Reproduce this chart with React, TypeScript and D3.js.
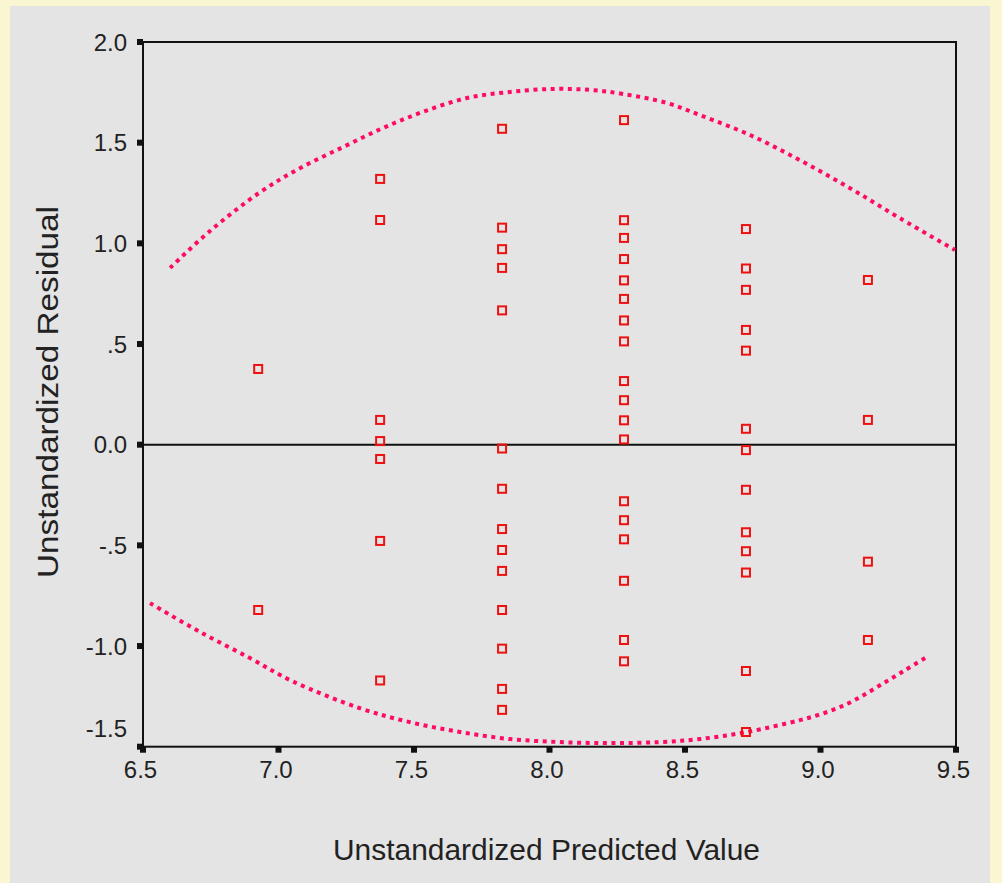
import React from 'react';
import * as d3 from 'd3';

// predicted value columns and the residuals
const predicted = [6.925, 7.375, 7.825, 8.275, 8.725, 9.175];
const resid6925 = [0.376, -0.821];
const resid7375 = [1.32, 1.116, 0.123, 0.018, -0.071, -0.478, -1.171];
const resid7825 = [1.569, 1.078, 0.971, 0.878, 0.667, -0.019, -0.219, -0.419, -0.523, -0.627, -0.821, -1.013, -1.213, -1.317];
const resid8275 = [1.612, 1.115, 1.027, 0.922, 0.816, 0.724, 0.617, 0.513, 0.316, 0.221, 0.121, 0.026, -0.281, -0.375, -0.47, -0.676, -0.97, -1.076];
const resid8725 = [1.071, 0.875, 0.769, 0.57, 0.467, 0.079, -0.027, -0.224, -0.435, -0.529, -0.635, -1.124, -1.427];
const resid9175 = [0.818, 0.123, -0.581, -0.97];
const residuals = [resid6925, resid7375, resid7825, resid8275, resid8725, resid9175];

// dotted envelope curves
const upperX = [6.6, 6.747, 6.932, 7.079, 7.238, 7.386, 7.533, 7.696, 7.854, 8.013, 8.149, 8.271, 8.434, 8.555, 8.74, 8.924, 9.109, 9.293, 9.496];
const upperY = [0.878, 1.061, 1.254, 1.373, 1.478, 1.573, 1.653, 1.722, 1.752, 1.767, 1.762, 1.742, 1.697, 1.637, 1.538, 1.413, 1.274, 1.125, 0.967];
const lowerX = [6.526, 6.71, 6.895, 7.05, 7.301, 7.485, 7.67, 7.854, 8.039, 8.223, 8.408, 8.555, 8.729, 8.924, 8.998, 9.072, 9.146, 9.227, 9.312, 9.397];
const lowerY = [-0.787, -0.93, -1.06, -1.174, -1.309, -1.378, -1.427, -1.462, -1.477, -1.482, -1.477, -1.462, -1.427, -1.368, -1.34, -1.303, -1.254, -1.189, -1.12, -1.05];

const xTicks = [6.5, 7.0, 7.5, 8.0, 8.5, 9.0, 9.5];
const xTickLabels = ['6.5', '7.0', '7.5', '8.0', '8.5', '9.0', '9.5'];
const yTicks = [2.0, 1.5, 1.0, 0.5, 0.0, -0.5, -1.0, -1.5];
const yTickLabels = ['2.0', '1.5', '1.0', '.5', '0.0', '-.5', '-1.0', '-1.5'];

const W = 1002;
const H = 883;
const font = '"Liberation Sans", Arial, sans-serif';

export default function App() {
  const x = d3.scaleLinear().domain([6.5, 9.5]).range([143, 956]);
  const y = d3.scaleLinear().domain([-1.5, 2.0]).range([746.7, 42]);

  const line = d3.line<[number, number]>()
    .x(d => x(d[0]))
    .y(d => y(d[1]))
    .curve(d3.curveCatmullRom);

  const upper = line(upperX.map((v, i) => [v, upperY[i]] as [number, number])) || '';
  const lower = line(lowerX.map((v, i) => [v, lowerY[i]] as [number, number])) || '';

  const [x0, x1] = x.range();
  const [yb, yt] = y.range();

  return (
    <svg width={W} height={H} style={{ position: 'absolute', left: 0, top: 0 }}>
      <rect x={0} y={0} width={W} height={H} fill="#fbf6d2" />
      <rect x={10} y={6} width={980} height={H - 6} fill="#e4e4e4" />

      {/* frame */}
      <rect x={x0} y={yt} width={x1 - x0} height={yb - yt} fill="none" stroke="#111" strokeWidth={2} />
      {/* zero reference line */}
      <line x1={x0} x2={x1} y1={y(0)} y2={y(0)} stroke="#111" strokeWidth={2} />

      {/* y ticks */}
      {yTicks.map((t, i) => (
        <g key={'yt' + i}>
          <rect x={x0 - 6} y={y(t) - 3} width={6} height={6} fill="#111" />
          <text
            x={127}
            y={i === yTicks.length - 1 ? y(t) - 18 : y(t)}
            dy="0.36em"
            textAnchor="end"
            fontFamily={font}
            fontSize={24}
            fill="#222"
          >
            {yTickLabels[i]}
          </text>
        </g>
      ))}

      {/* x ticks */}
      {xTicks.map((t, i) => (
        <g key={'xt' + i}>
          <rect x={x(t) - 3} y={yb} width={6} height={6} fill="#111" />
          <text x={x(t) - 2.5} y={778} textAnchor="middle" fontFamily={font} fontSize={24} fill="#222">
            {xTickLabels[i]}
          </text>
        </g>
      ))}

      {/* envelope curves */}
      <path d={upper} fill="none" stroke="#ff0a64" strokeWidth={4} strokeDasharray="4 4.6" />
      <path d={lower} fill="none" stroke="#ff0a64" strokeWidth={4} strokeDasharray="4 4.6" />

      {/* residual points */}
      {predicted.map((p, ci) =>
        residuals[ci].map((r, ri) => (
          <rect
            key={`p${ci}-${ri}`}
            x={x(p) - 4}
            y={y(r) - 4}
            width={8}
            height={8}
            fill="none"
            stroke="#ee1111"
            strokeWidth={2}
          />
        ))
      )}

      {/* axis titles */}
      <text x={333} y={860} fontFamily={font} fontSize={30} fill="#222" textLength={427} lengthAdjust="spacingAndGlyphs">
        Unstandardized Predicted Value
      </text>
      <text
        transform="translate(58,578) rotate(-90)"
        x={0}
        y={0}
        fontFamily={font}
        fontSize={30}
        fill="#222"
        textLength={372}
        lengthAdjust="spacingAndGlyphs"
      >
        Unstandardized Residual
      </text>
    </svg>
  );
}
